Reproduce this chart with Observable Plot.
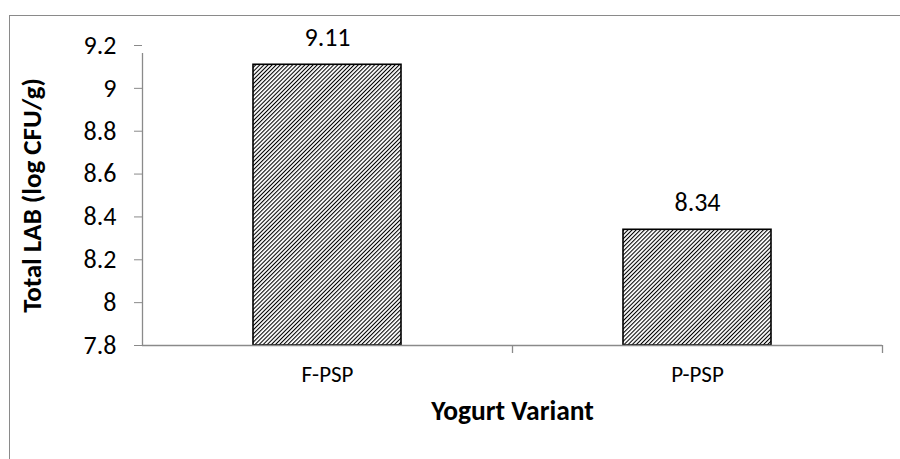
<!DOCTYPE html>
<html>
<head>
<meta charset="utf-8">
<script src="https://cdn.jsdelivr.net/npm/d3@7"></script>
<script src="https://cdn.jsdelivr.net/npm/@observablehq/plot@0.6"></script>
<style>
  html, body { margin: 0; padding: 0; background: #fff; }
  #wrap { position: relative; width: 900px; height: 459px; overflow: hidden; }
  #border { position: absolute; left: 9px; top: 15px; width: 1000px; height: 1000px; border: 1.5px solid #8a8a8a; box-sizing: border-box; }
  #chart { position: absolute; left: 0; top: 0; }
</style>
</head>
<body>
<div id="wrap"><div id="border"></div><div id="chart"></div></div>
<script>
const categories = ["F-PSP", "P-PSP"];
const values = [9.11, 8.34];
const yTicks = [7.8, 8, 8.2, 8.4, 8.6, 8.8, 9, 9.2];
const yTitle = "Total LAB (log CFU/g)";
const xTitle = "Yogurt Variant";

const data = categories.map((c, i) => ({category: c, value: values[i]}));
const font = "Carlito, 'Open Sans', sans-serif";
const W = 900, H = 459, mL = 142, mR = 18, mT = 45, mB = 114;
const step = (W - mL - mR) / categories.length;
const axisColor = "#8a8a8a";

const plot = Plot.plot({
  width: W, height: H,
  marginLeft: mL, marginRight: mR, marginTop: mT, marginBottom: mB,
  style: {fontFamily: font, background: "transparent", overflow: "visible"},
  x: {domain: categories, paddingInner: 0.6, paddingOuter: 0.3},
  y: {domain: [7.8, 9.2]},
  marks: [
    Plot.barY(data, {x: "category", y1: 7.8, y2: "value", fill: "url(#hatch)", stroke: "#000", strokeWidth: 1.6}),
    Plot.ruleY([7.8], {stroke: axisColor, strokeWidth: 1.3}),
    Plot.ruleX([categories[0]], {dx: -step / 2, y1: 7.8, y2: 9.2, insetBottom: -8, stroke: axisColor, strokeWidth: 1.3}),
    Plot.ruleX(categories, {dx: step / 2, y1: 7.8, y2: 7.8, insetBottom: -8, stroke: axisColor, strokeWidth: 1.3}),
    Plot.text(data, {x: "category", y: "value", text: d => String(d.value), dy: -27, fontSize: 26, fill: "#000", fontFamily: font}),
    Plot.axisY({ticks: yTicks, tickFormat: d => String(d), tickSize: 8, tickPadding: 18, fontSize: 26, stroke: axisColor, color: "#000",
      label: null}),
    Plot.axisX({tickSize: 0, tickPadding: 20, fontSize: 23, color: "#000", label: null}),
    Plot.text([xTitle], {frameAnchor: "bottom", dy: 74, fontSize: 27.5, fontWeight: "bold", fill: "#000", fontFamily: font}),
    Plot.text([yTitle], {frameAnchor: "left", textAnchor: "middle", dx: -110, rotate: -90, fontSize: 27, fontWeight: "bold", fill: "#000", fontFamily: font})
  ]
});

const svg = d3.select(plot);
const defs = svg.insert("defs", ":first-child");
const pat = defs.append("pattern").attr("id", "hatch").attr("patternUnits", "userSpaceOnUse")
  .attr("width", 2.9).attr("height", 2.9).attr("patternTransform", "rotate(45)");
pat.append("rect").attr("width", 2.9).attr("height", 2.9).attr("fill", "#fff");
pat.append("rect").attr("x", 0).attr("y", 0).attr("width", 1.05).attr("height", 2.9).attr("fill", "#000");

document.getElementById("chart").appendChild(plot);
</script>
</body>
</html>
